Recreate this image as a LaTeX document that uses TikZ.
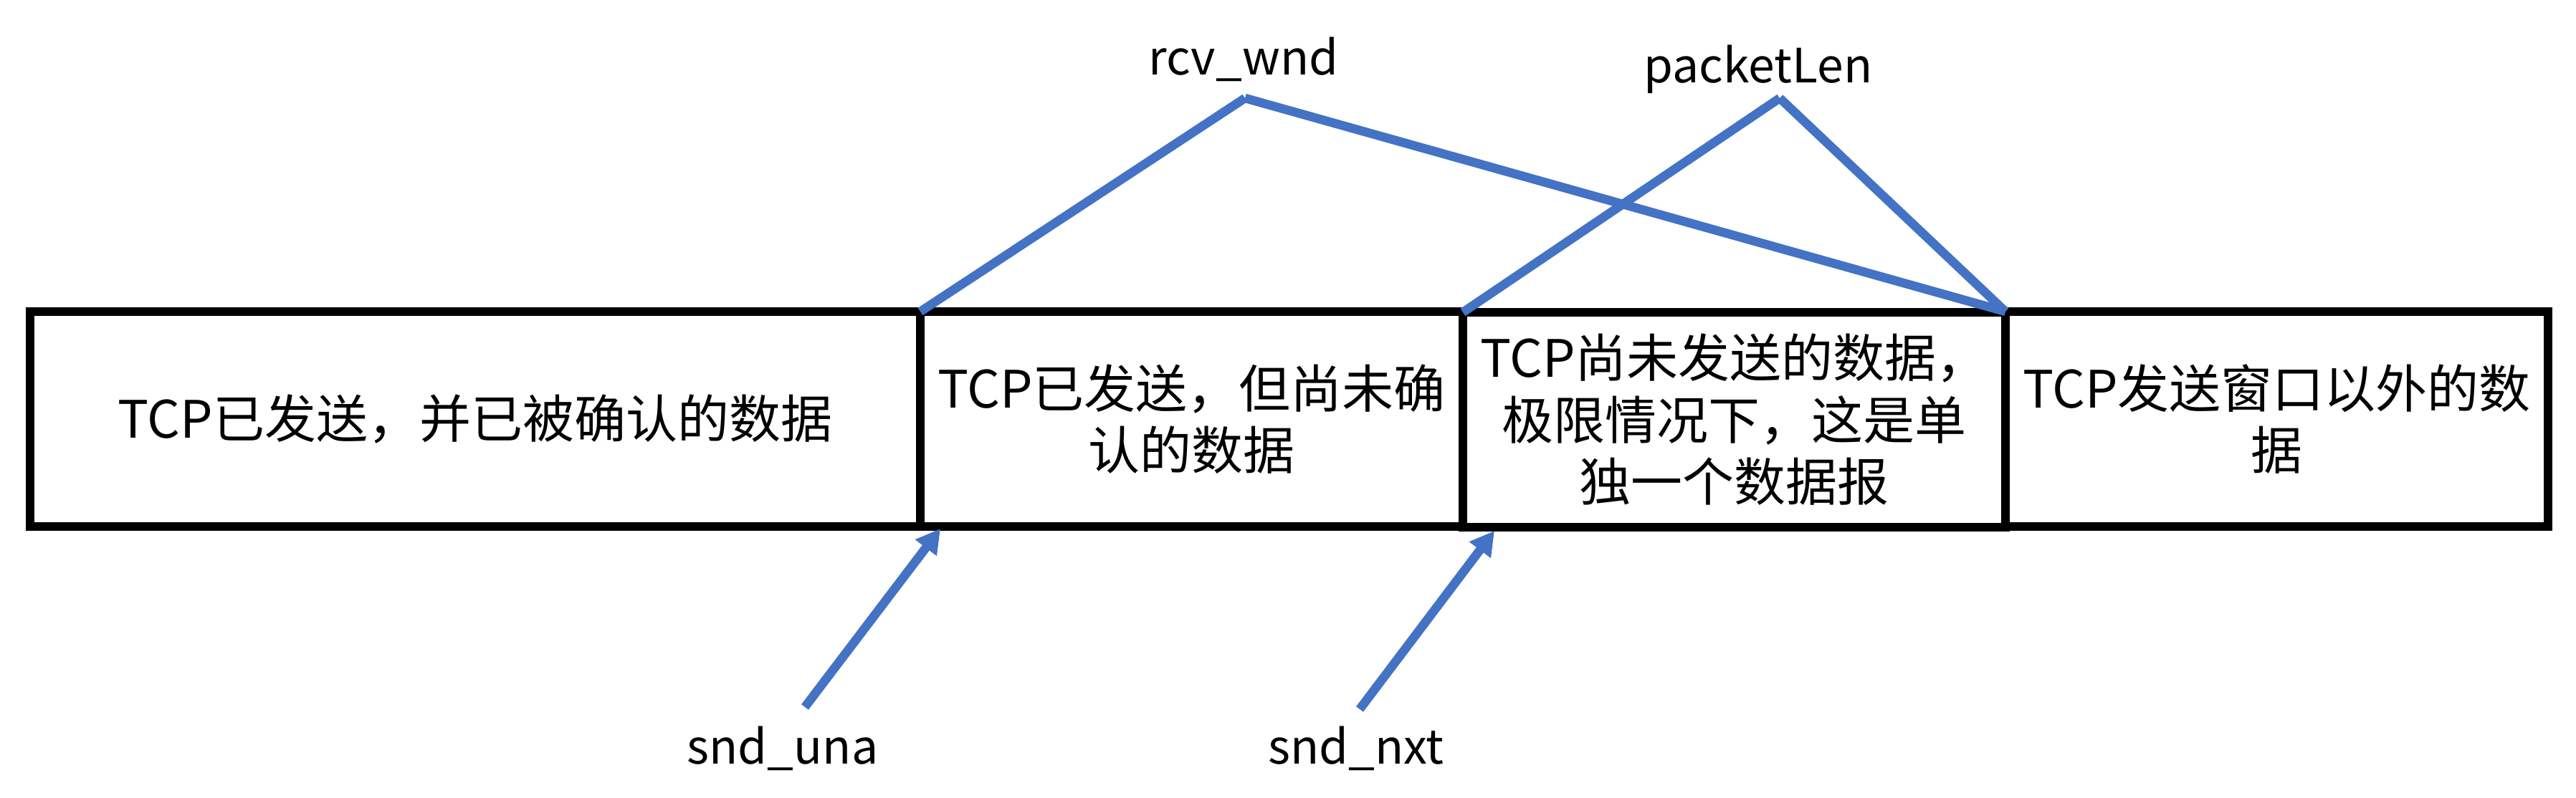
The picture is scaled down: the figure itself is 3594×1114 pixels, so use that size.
\documentclass[tikz,border=0pt]{standalone}
\usepackage{fontspec}
\setmainfont{Noto Sans CJK SC}
\usetikzlibrary{arrows.meta}
\definecolor{officeblue}{HTML}{4472C4}
\begin{document}
\begin{tikzpicture}[x=0.2pt,y=-0.2pt,
  txt/.style={font=\fontsize{14.4pt}{17.3pt}\selectfont},
  cell/.style={txt, draw=black, line width=2.4pt, rectangle, inner sep=0pt, outer sep=0pt, minimum height=60pt, align=center},
  lbl/.style={font=\fontsize{13.2pt}{16pt}\selectfont, anchor=base, inner sep=0pt},
  wline/.style={draw=officeblue, line width=2.5pt},
  parrow/.style={draw=officeblue, line width=2.5pt, -{Triangle[length=6.7pt,width=7.1pt]}}]
\useasboundingbox[fill=white] (0,0) rectangle (3594,1114);
% boxes
\node[cell, minimum width=248.4pt] (b1) at (663,585) {TCP已发送，并已被确认的数据};
\node[cell, minimum width=151.4pt] (b2) at (1662.5,585) {TCP已发送，但尚未确\\认的数据};
\node[cell, minimum width=151.4pt] (b3) at (2419.5,586) {TCP尚未发送的数据，\\极限情况下，这是单\\独一个数据报};
\node[cell, minimum width=151.4pt] (b4) at (3176.5,585) {TCP发送窗口以外的数\\据};
% labels
\node[lbl] (rcv) at (1735,105) {rcv\_wnd};
\node[lbl] (plen) at (2453,116) {packetLen};
\node[lbl] (una) at (1092,1067) {snd\_una};
\node[lbl] (nxt) at (1892,1067) {snd\_nxt};
% apex and arrow coordinates
\coordinate (rcvapex) at (1737,137);
\coordinate (plenapex) at (2483,137);
\coordinate (unatail) at (1123,987);
\coordinate (unatip) at (1312,738);
\coordinate (nxttail) at (1897,990);
\coordinate (nxttip) at (2085,741);
% window lines
\draw[wline] (b2.north west) -- (rcvapex);
\draw[wline] (rcvapex) -- (b4.north west);
\draw[wline] (b3.north west) -- (plenapex);
\draw[wline] (plenapex) -- (b4.north west);
% pointer arrows
\draw[parrow] (unatail) -- (unatip);
\draw[parrow] (nxttail) -- (nxttip);
\end{tikzpicture}
\end{document}
